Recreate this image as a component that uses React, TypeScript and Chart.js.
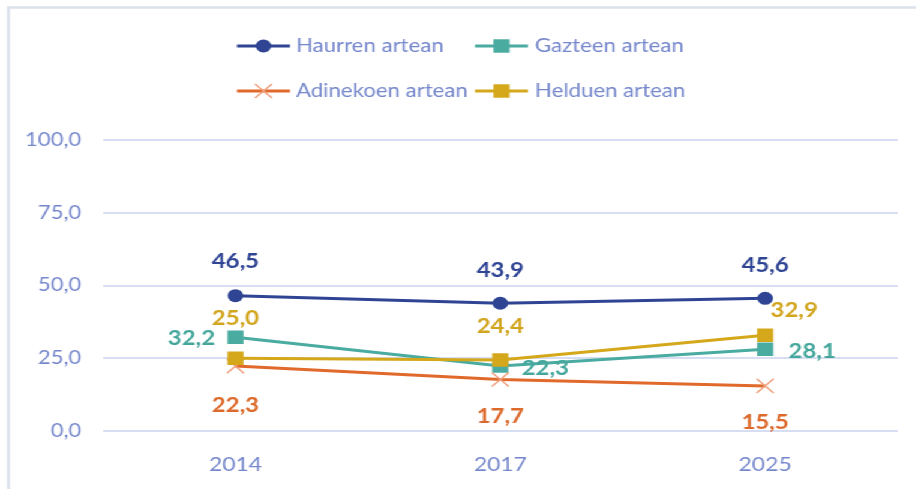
import React, { useEffect, useRef } from 'react';
import { Chart, registerables } from 'chart.js';

Chart.register(...registerables);

// ---- data ----
const categories = ['2014', '2017', '2025'];
const haurren = [46.5, 43.9, 45.6];
const gazteen = [32.2, 22.3, 28.1];
const adinekoen = [22.3, 17.7, 15.5];
const helduen = [25.0, 24.4, 32.9];
const yMin = 0;
const yMax = 100;
const yStep = 25;
const seriesNames = ['Haurren artean', 'Gazteen artean', 'Adinekoen artean', 'Helduen artean'];

// ---- style ----
const SX = 1.2; // horizontal stretch of the whole picture
const W = 763;
const H = 489;
const FONT = 'Lato, "Open Sans", sans-serif';
const TEXT_COLOR = '#7688CC';
const GRID_COLOR = '#D8DEF2';
const COLORS = ['#2F4594', '#4AABA1', '#E0692B', '#D5A81C'];
const LABEL_COLORS = ['#2F4594', '#45A79C', '#DC6A2C', '#D2A51E'];
const POINT_STYLES = ['circle', 'rect', 'crossRot', 'rect'];
const POINT_RADIUS = [6.5, 9.5, 10, 9.5];
// label offsets (page px) from each point
const LABEL_OFFSETS: [number, number][][] = [
  [[0, -34], [0, -33], [0, -33]],
  [[-44, 1], [45, 2], [47, 2]],
  [[0, 39], [0, 37.5], [0, 37]],
  [[0, -40], [0, -33], [29, -25]],
];

const fmt = (v: number) => v.toFixed(1).replace('.', ',');

function drawMarker(ctx: CanvasRenderingContext2D, i: number, x: number, y: number) {
  const style = POINT_STYLES[i];
  const r = POINT_RADIUS[i];
  ctx.save();
  if (style === 'circle') {
    ctx.fillStyle = COLORS[i];
    ctx.beginPath();
    ctx.arc(x, y, r, 0, Math.PI * 2);
    ctx.fill();
  } else if (style === 'rect') {
    const s = Math.SQRT1_2 * r;
    ctx.fillStyle = COLORS[i];
    ctx.fillRect(x - s, y - s, 2 * s, 2 * s);
  } else {
    const d = Math.SQRT1_2 * r;
    ctx.strokeStyle = '#EFA07C';
    ctx.lineWidth = 1.5;
    ctx.beginPath();
    ctx.moveTo(x - d, y - d);
    ctx.lineTo(x + d, y + d);
    ctx.moveTo(x - d, y + d);
    ctx.lineTo(x + d, y - d);
    ctx.stroke();
  }
  ctx.restore();
}

const framePlugin = {
  id: 'frame',
  beforeDraw(chart: any) {
    const ctx = chart.ctx as CanvasRenderingContext2D;
    ctx.save();
    ctx.strokeStyle = '#DCE2EC';
    ctx.lineWidth = 2.5;
    ctx.beginPath();
    ctx.moveTo(8.5 / SX, H);
    ctx.lineTo(8.5 / SX, 7.5);
    ctx.lineTo(W, 7.5);
    ctx.stroke();
    ctx.restore();
  },
};

const legendPlugin = {
  id: 'customLegend',
  afterDraw(chart: any) {
    const ctx = chart.ctx as CanvasRenderingContext2D;
    const cols = [
      { x0: 237, x1: 290, tx: 296 },
      { x0: 475, x1: 528, tx: 535 },
    ];
    const rows = [46, 91];
    ctx.save();
    seriesNames.forEach((name, i) => {
      const c = cols[i % 2];
      const y = rows[Math.floor(i / 2)];
      const a = c.x0 / SX;
      const b = c.x1 / SX;
      ctx.strokeStyle = COLORS[i];
      ctx.lineWidth = 3;
      ctx.beginPath();
      ctx.moveTo(a, y);
      ctx.lineTo(b, y);
      ctx.stroke();
      drawMarker(ctx, i, (a + b) / 2, y);
      ctx.fillStyle = TEXT_COLOR;
      ctx.font = `18.5px ${FONT}`;
      ctx.textAlign = 'left';
      ctx.textBaseline = 'middle';
      ctx.fillText(name, c.tx / SX, y);
    });
    ctx.restore();
  },
};

const labelPlugin = {
  id: 'pointLabels',
  afterDatasetsDraw(chart: any) {
    const ctx = chart.ctx as CanvasRenderingContext2D;
    ctx.save();
    ctx.font = `bold 20px ${FONT}`;
    ctx.textAlign = 'center';
    ctx.textBaseline = 'middle';
    chart.data.datasets.forEach((ds: any, i: number) => {
      const meta = chart.getDatasetMeta(i);
      meta.data.forEach((pt: any, j: number) => {
        const [dx, dy] = LABEL_OFFSETS[i][j];
        ctx.fillStyle = LABEL_COLORS[i];
        ctx.fillText(fmt(ds.data[j]), pt.x + dx / SX, pt.y + dy);
      });
    });
    ctx.restore();
  },
};

export default function App() {
  const ref = useRef<HTMLCanvasElement | null>(null);

  useEffect(() => {
    if (!ref.current) return;
    const series = [haurren, gazteen, adinekoen, helduen];
    const chart = new Chart(ref.current, {
      type: 'line',
      data: {
        labels: categories,
        datasets: series.map((d, i) => ({
          label: seriesNames[i],
          data: d,
          borderColor: COLORS[i],
          backgroundColor: COLORS[i],
          borderWidth: 3,
          pointStyle: POINT_STYLES[i] as any,
          pointRadius: POINT_RADIUS[i],
          pointBackgroundColor: COLORS[i],
          pointBorderColor: i === 2 ? '#EFA07C' : COLORS[i],
          pointBorderWidth: i === 2 ? 1.5 : 0,
          tension: 0,
          fill: false,
          order: 4 - i,
        })),
      },
      options: {
        responsive: false,
        animation: false,
        layout: { padding: { top: 140, right: 15, left: 0, bottom: 0 } },
        plugins: {
          legend: { display: false },
          tooltip: { enabled: false },
        },
        scales: {
          x: {
            offset: true,
            grid: { display: false },
            border: { display: false },
            ticks: {
              color: TEXT_COLOR,
              font: { family: FONT, size: 19 },
              padding: 14,
            },
            afterFit: (scale: any) => {
              scale.height = 58;
            },
          },
          y: {
            min: yMin,
            max: yMax,
            border: { display: false },
            grid: { color: GRID_COLOR, lineWidth: 2, drawTicks: false },
            ticks: {
              stepSize: yStep,
              color: TEXT_COLOR,
              font: { family: FONT, size: 18.5 },
              padding: 18,
              callback: (v: any) => fmt(Number(v)),
            },
            afterFit: (scale: any) => {
              scale.width = 103 / SX;
            },
          },
        },
      },
      plugins: [framePlugin, legendPlugin, labelPlugin],
    });
    return () => chart.destroy();
  }, []);

  return (
    <div
      style={{
        position: 'fixed',
        left: 0,
        top: 0,
        width: W,
        height: H,
        transform: `scaleX(${SX})`,
        transformOrigin: '0 0',
        background: '#fff',
      }}
    >
      <canvas ref={ref} width={W} height={H} style={{ display: 'block', width: W, height: H }} />
    </div>
  );
}
